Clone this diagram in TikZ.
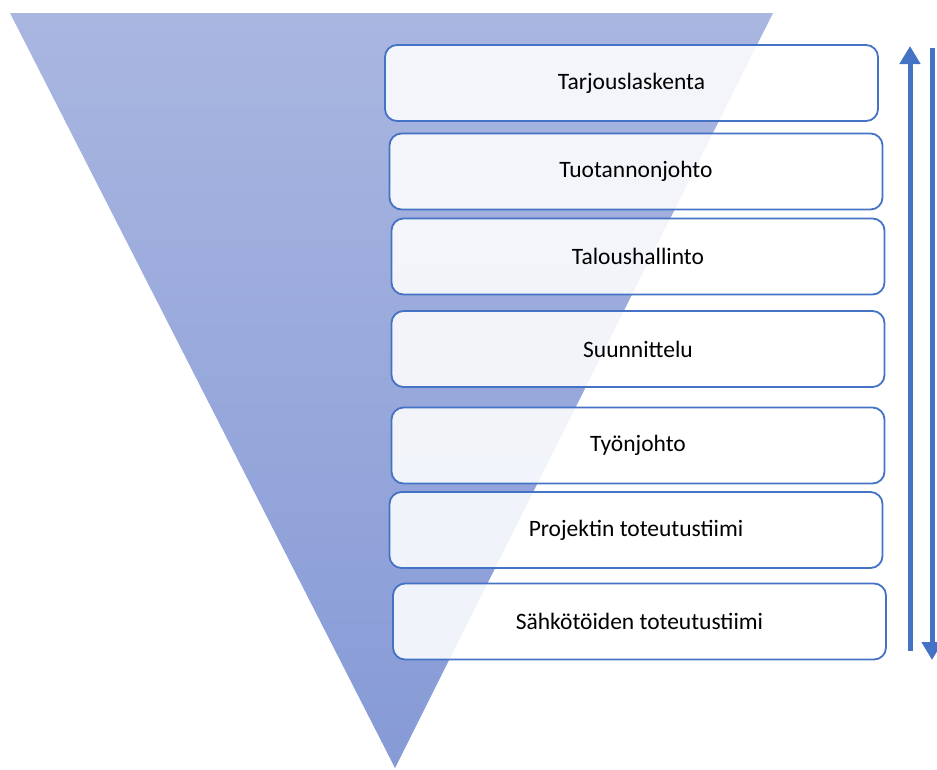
\documentclass[tikz,border=0pt]{standalone}
\usepackage{fontspec}
\setmainfont{Carlito}
\usetikzlibrary{arrows.meta}
\definecolor{funneltop}{RGB}{169, 182, 224}
\definecolor{funnelbot}{RGB}{134, 154, 214}
\definecolor{boxblue}{RGB}{68, 114, 196}

\begin{document}
\begin{tikzpicture}[
  x=1pt, y=-1pt,
  stage/.style={rounded corners=12pt, draw=boxblue, line width=1.8pt, fill=white, fill opacity=0.88, text opacity=1, font=\fontsize{23.5}{26}\selectfont, text=black, minimum width=493pt, minimum height=76pt, align=center},
  flow/.style={-{Triangle[width=20pt, length=18pt]}, boxblue, line width=5pt},
]
\useasboundingbox (0,0) rectangle (937,769);

% Funnel
\shade[top color=funneltop, bottom color=funnelbot] (10,13) -- (773,13) -- (395,768) -- cycle;

% Stages
\node[stage] (tarjous) at (631.5, 83) {Tarjouslaskenta};
\node[stage] (tuotanto) at (636, 171.5) {Tuotannonjohto};
\node[stage] (talous) at (638, 256.5) {Taloushallinto};
\node[stage] (suunn) at (638, 349) {Suunnittelu};
\node[stage] (tyonjohto) at (638, 445.5) {Työnjohto};
\node[stage] (projekti) at (636, 530) {Projektin toteutustiimi};
\node[stage] (sahko) at (639.5, 621.5) {Sähkötöiden toteutustiimi};

% Side arrows
\coordinate (upbot) at (910, 651);
\coordinate (uptop) at (910, 46);
\coordinate (downtop) at (932, 48);
\coordinate (downbot) at (932, 660);
\draw[flow] (upbot) -- (uptop);
\draw[flow] (downtop) -- (downbot);
\end{tikzpicture}
\end{document}
